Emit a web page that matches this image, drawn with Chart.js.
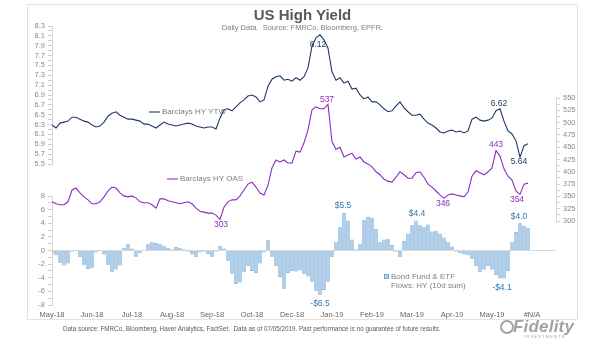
<!DOCTYPE html>
<html lang="en">
<head>
<meta charset="UTF-8">
<title>US High Yield</title>
<script src="https://cdn.jsdelivr.net/npm/chart.js@4/dist/chart.umd.min.js"></script>
<style>
  body {
    margin: 0;
    background-color: #fff;
    font-family: "Liberation Sans", Arial, sans-serif;
  }
  .wrap {
    position: relative;
    width: 605px;
    height: 341px;
    overflow: hidden;
  }
  .frame {
    position: absolute;
    left: 27px;
    top: 4px;
    width: 549px;
    height: 314px;
    border: 1px solid #e3e3e3;
  }
  canvas {
    position: absolute;
    left: 0;
    top: 0;
  }
  .title {
    position: absolute;
    left: 0;
    width: 605px;
    top: 6px;
    text-align: center;
    font-size: 15px;
    font-weight: bold;
    color: #595959;
    line-height: 18px;
  }
  .subtitle {
    position: absolute;
    left: 0;
    width: 605px;
    top: 23px;
    text-align: center;
    font-size: 7.5px;
    color: #7f7f7f;
    line-height: 9px;
  }
  .footer {
    position: absolute;
    left: 63px;
    top: 324px;
    font-size: 6.3px;
    color: #595959;
    line-height: 9px;
    white-space: pre;
  }
  .logo {
    position: absolute;
    left: 500px;
    top: 318px;
    color: #a3a3a3;
  }
  .logo .ring {
    position: absolute;
    left: 0;
    top: 2px;
    width: 10px;
    height: 10px;
    border: 2px solid #a3a3a3;
    border-radius: 50%;
  }
  .logo .name {
    position: absolute;
    left: 13px;
    top: -1px;
    font-size: 17px;
    font-weight: bold;
    font-style: italic;
    letter-spacing: 0.2px;
    white-space: nowrap;
  }
  .logo .sub {
    position: absolute;
    left: 24px;
    top: 16px;
    font-size: 4px;
    letter-spacing: 1.2px;
    white-space: nowrap;
  }
</style>
</head>
<body>

<div class="wrap">
  <div class="frame"></div>
  <canvas id="chartHY" width="605" height="341"></canvas>
  <div class="title">US High Yield</div>
  <div class="subtitle">Daily Data.&nbsp; Source: FMRCo, Bloomberg, EPFR.</div>
  <div class="footer">Data source: FMRCo, Bloomberg, Haver Analytics, FactSet.  Data as of 07/05/2019. Past performance is no guarantee of future results.</div>
  <div class="logo"><div class="ring"></div><div class="name">Fidelity</div><div class="sub">INVESTMENTS</div></div>
</div>

<script>
  // month labels, one every 10 points
  const xTickLabels = ['May-18', 'Jun-18', 'Jul-18', 'Aug-18', 'Sep-18', 'Oct-18', 'Dec-18',
                       'Jan-19', 'Feb-19', 'Mar-19', 'Apr-19', 'May-19', '#N/A'];
  const labelEvery = 10;
  const extraSlots = 6; // empty categories after #N/A

  // Barclays HY yield to worst (%)
  const ytw = [6.29, 6.23, 6.33, 6.35, 6.37, 6.45, 6.45, 6.41, 6.37, 6.35,
               6.29, 6.25, 6.27, 6.35, 6.47, 6.53, 6.56, 6.49, 6.45, 6.41,
               6.41, 6.39, 6.37, 6.31, 6.31, 6.27, 6.23, 6.29, 6.35, 6.31,
               6.29, 6.27, 6.29, 6.31, 6.33, 6.31, 6.27, 6.25, 6.23, 6.25,
               6.25, 6.21, 6.43, 6.60, 6.62, 6.58, 6.66, 6.74, 6.80, 6.88,
               6.90, 6.86, 6.76, 6.80, 7.08, 7.22, 7.27, 7.29, 7.20, 7.22,
               7.18, 7.25, 7.20, 7.27, 7.45, 7.89, 8.06, 8.12, 8.02, 7.85,
               7.37, 7.20, 7.25, 7.14, 7.18, 7.02, 7.04, 6.90, 6.82, 6.86,
               6.76, 6.76, 6.70, 6.62, 6.56, 6.58, 6.68, 6.76, 6.64, 6.56,
               6.49, 6.49, 6.51, 6.41, 6.33, 6.29, 6.23, 6.15, 6.13, 6.17,
               6.19, 6.15, 6.17, 6.13, 6.17, 6.41, 6.45, 6.39, 6.37, 6.39,
               6.43, 6.58, 6.62, 6.37, 6.17, 6.11, 5.97, 5.64, 5.87, 5.91];

  // Barclays HY option adjusted spread (bp)
  const oas = [339, 335, 333, 333, 339, 363, 367, 357, 349, 343,
               335, 335, 339, 349, 361, 369, 367, 357, 351, 349,
               351, 347, 339, 337, 337, 333, 326, 345, 345, 341,
               339, 337, 335, 337, 339, 335, 326, 320, 318, 316,
               316, 312, 303, 328, 339, 343, 343, 351, 363, 375,
               379, 369, 357, 353, 373, 408, 424, 420, 424, 418,
               418, 442, 440, 459, 485, 526, 532, 528, 528, 537,
               461, 446, 450, 430, 434, 438, 426, 430, 420, 416,
               410, 400, 394, 385, 381, 379, 389, 400, 394, 387,
               387, 398, 400, 389, 375, 369, 361, 353, 346, 353,
               355, 353, 351, 349, 359, 391, 402, 398, 394, 400,
               408, 443, 432, 406, 391, 383, 361, 354, 375, 377];

  // bond fund & ETF flows, HY, 10 day sum ($bn)
  const flows = [-0.4, -0.7, -1.8, -2.2, -1.9, -0.2, 0.1, -1.0, -2.1, -2.7,
                 -2.6, -0.3, 0.1, -0.6, -2.1, -3.2, -2.8, -2.2, 0.4, 0.9,
                 0.3, -0.9, -0.4, 0.0, 0.9, 1.3, 1.1, 1.0, 0.7, 0.4,
                 0.2, 0.5, 0.4, 0.2, -0.2, -0.6, -1.0, -0.3, -0.2, -0.5,
                 -0.9, -0.2, 0.7, 0.3, -1.5, -3.4, -4.9, -4.7, -3.2, -2.3,
                 -3.0, -3.3, -1.9, -0.3, 1.5, -0.9, -2.3, -3.9, -5.6, -3.3,
                 -3.0, -3.1, -2.9, -3.5, -3.8, -4.6, -5.9, -6.5, -5.8, -4.6,
                 -1.0, 1.3, 3.4, 5.5, 4.4, 1.6, 0.2, 1.0, 4.5, 4.9,
                 4.8, 3.2, 1.2, 1.6, 1.7, 0.8, -0.2, -1.0, 1.4, 2.5,
                 3.7, 4.4, 3.7, 3.5, 3.8, 2.8, 2.9, 2.5, 1.9, 1.3,
                 0.6, -0.2, -0.4, -0.5, -0.7, -1.2, -2.3, -3.2, -2.8, -2.3,
                 -2.8, -3.6, -4.1, -4.1, -3.0, 1.2, 2.7, 4.0, 3.6, 3.3];

  // axis tick labels
  const ytwTicks = [5.5, 5.7, 5.9, 6.1, 6.3, 6.5, 6.7, 6.9, 7.1, 7.3, 7.5, 7.7, 7.9, 8.1, 8.3];
  const oasTicks = [300, 325, 350, 375, 400, 425, 450, 475, 500, 525, 550];
  const flowTicks = [-8, -6, -4, -2, 0, 2, 4, 6, 8];

  // points that get a value label
  const callouts = [
    { key: 'ytw', index: 67 }, { key: 'ytw', index: 112 }, { key: 'ytw', index: 117 },
    { key: 'oas', index: 69 }, { key: 'oas', index: 111 }, { key: 'oas', index: 117 },
    { key: 'oas', index: 98 }, { key: 'oas', index: 42 },
    { key: 'flows', index: 73 }, { key: 'flows', index: 91 }, { key: 'flows', index: 117 },
    { key: 'flows', index: 67 }, { key: 'flows', index: 112 }
  ];

  const FONT = '"Liberation Sans", Arial, sans-serif';
  const NAVY = '#203864';
  const PURPLE = '#8e2bc2';
  const BLUE = '#2e78b4';

  const categories = [];
  for (let i = 0; i < (xTickLabels.length - 1) * labelEvery + 1 + extraSlots; i++) {
    categories.push(i % labelEvery === 0 ? (xTickLabels[i / labelEvery] || '') : '');
  }

  const series = {
    ytw:   { data: ytw,   axis: 'yYtw',  color: NAVY,   fmt: v => v.toFixed(2) },
    oas:   { data: oas,   axis: 'yOas',  color: PURPLE, fmt: v => String(v) },
    flows: { data: flows, axis: 'yFlow', color: BLUE,   fmt: v => (v < 0 ? '-' : '') + '$' + Math.abs(v).toFixed(1) }
  };
  // text offsets from the point, same order as callouts
  const calloutOffsets = [[-2, 10], [-1, -5], [-1, 5],
                          [-1, -5], [0, -6], [-3, 5], [-1, 5], [1, 5],
                          [-1, -7], [1, -7], [-1, -7], [0, 9], [2, 9]];

  // major ticks with one unlabeled minor tick between each pair
  function withMinor(majors) {
    const out = [];
    majors.forEach((v, i) => {
      out.push({ value: v });
      if (i < majors.length - 1) out.push({ value: (v + majors[i + 1]) / 2 });
    });
    return out;
  }

  function valueAxis(position, stack, weight, majors, digits) {
    return {
      position: position,
      stack: stack,
      stackWeight: weight,
      min: majors[0],
      max: majors[majors.length - 1],
      afterBuildTicks: s => { s.ticks = withMinor(majors); },
      afterFit: s => { s.width = position === 'left' ? 52 : 49; },
      ticks: {
        autoSkip: false,
        padding: 3,
        color: '#8a8a8a',
        font: { size: 7.5, family: FONT },
        callback: (v, i) => i % 2 === 0 ? v.toFixed(digits) : ''
      },
      grid: { drawOnChartArea: false, tickLength: 4, tickColor: '#cfcfcf' },
      border: { color: '#d6d6d6' }
    };
  }

  function spacer(position, stack, weight) {
    return {
      position: position,
      stack: stack,
      stackWeight: weight,
      min: 0,
      max: 1,
      afterFit: s => { s.width = position === 'left' ? 52 : 49; },
      ticks: { display: false },
      grid: { display: false },
      border: { display: false }
    };
  }

  const flowAxis = valueAxis('left', 'l', 109, flowTicks, 0);
  flowAxis.grid = {
    drawOnChartArea: true,
    tickLength: 4,
    tickColor: '#cfcfcf',
    color: ctx => (ctx.tick && ctx.tick.value === 0) ? '#d9d9d9' : 'rgba(0,0,0,0)'
  };

  const textPlugin = {
    id: 'textPlugin',
    afterDatasetsDraw(chart) {
      const ctx = chart.ctx;
      const xs = chart.scales.x;
      ctx.save();
      ctx.textAlign = 'center';
      ctx.textBaseline = 'middle';
      ctx.font = '8.5px ' + FONT;
      callouts.forEach((c, k) => {
        const s = series[c.key];
        const v = s.data[c.index];
        const px = xs.getPixelForValue(c.index) + calloutOffsets[k][0];
        const py = chart.scales[s.axis].getPixelForValue(v) + calloutOffsets[k][1];
        ctx.fillStyle = s.color;
        ctx.fillText(s.fmt(v), px, py);
      });

      // inline series names
      ctx.textAlign = 'left';
      ctx.font = '8px ' + FONT;
      ctx.lineWidth = 1.1;
      [[149, 112, NAVY, 'Barclays HY YTW'], [167, 179, PURPLE, 'Barclays HY OAS']].forEach(n => {
        ctx.strokeStyle = n[2];
        ctx.beginPath();
        ctx.moveTo(n[0], n[1]);
        ctx.lineTo(n[0] + 11, n[1]);
        ctx.stroke();
        ctx.fillStyle = '#808080';
        ctx.fillText(n[3], n[0] + 13, n[1]);
      });
      ctx.fillStyle = '#b3d0ea';
      ctx.strokeStyle = '#5d9ad0';
      ctx.lineWidth = 0.8;
      ctx.fillRect(384.5, 274.5, 4, 4);
      ctx.strokeRect(384.5, 274.5, 4, 4);
      ctx.fillStyle = '#808080';
      ctx.fillText('Bond Fund & ETF', 391, 277);
      ctx.fillText('Flows: HY (10d sum)', 391, 286);
      ctx.restore();
    }
  };

  Chart.defaults.font.family = FONT;

  new Chart('chartHY', {
    type: 'bar',
    data: {
      labels: categories,
      datasets: [{
        type: 'line',
        label: 'Barclays HY YTW',
        data: ytw,
        yAxisID: 'yYtw',
        borderColor: NAVY,
        borderWidth: 1.1,
        pointRadius: 0,
        fill: false
      }, {
        type: 'line',
        label: 'Barclays HY OAS',
        data: oas,
        yAxisID: 'yOas',
        borderColor: PURPLE,
        borderWidth: 1.1,
        pointRadius: 0,
        fill: false
      }, {
        type: 'bar',
        label: 'Bond Fund & ETF Flows: HY (10d sum)',
        data: flows,
        yAxisID: 'yFlow',
        backgroundColor: '#b3d0ea',
        borderColor: '#5b97cc',
        borderWidth: 0.7,
        categoryPercentage: 1,
        barPercentage: 0.85
      }]
    },
    options: {
      responsive: false,
      animation: false,
      layout: { padding: { top: 26, left: 0, right: 0, bottom: 0 } },
      plugins: {
        legend: { display: false },
        tooltip: { enabled: false }
      },
      scales: {
        x: {
          type: 'category',
          offset: false,
          grid: { display: false, drawTicks: false, tickLength: 0 },
          border: { display: false },
          afterFit: s => { s.height = 36; },
          ticks: {
            autoSkip: false,
            maxRotation: 0,
            padding: 5,
            color: '#666666',
            font: { size: 7.5, family: FONT }
          }
        },
        yFlow: flowAxis,
        ySpaceL: spacer('left', 'l', 32),
        yYtw: valueAxis('left', 'l', 138, ytwTicks, 1),
        yPadT: spacer('right', 'r', 72),
        yOas: valueAxis('right', 'r', 123, oasTicks, 0),
        yPadB: spacer('right', 'r', 84)
      }
    },
    plugins: [textPlugin]
  });
</script>

</body>
</html>
